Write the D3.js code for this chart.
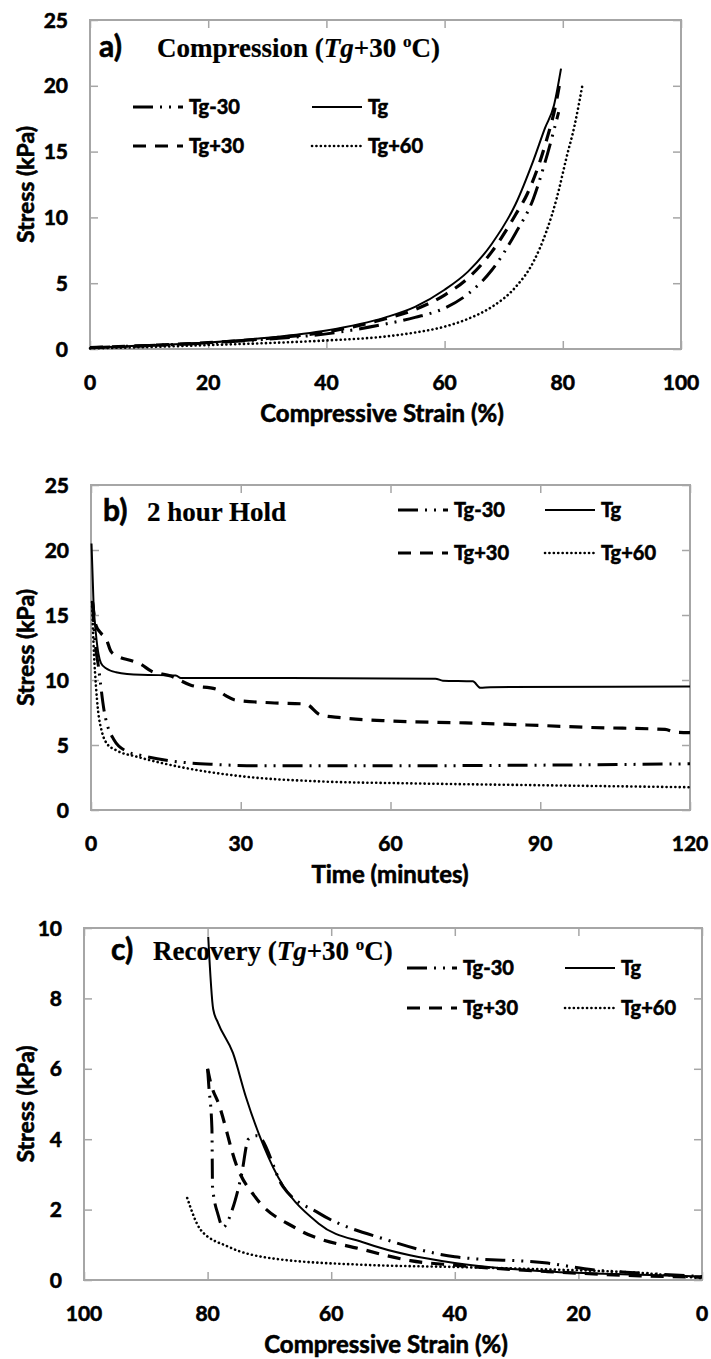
<!DOCTYPE html>
<html>
<head>
<meta charset="utf-8">
<script src="https://cdn.jsdelivr.net/npm/d3@7"></script>
<style>
  body { margin: 0; background: #fff; }
  text { font-family: Lato, "Open Sans", sans-serif; font-weight: bold; fill: #000; stroke: #000; stroke-width: 0.6px; }
  .serif { font-family: "Liberation Serif", "Times New Roman", serif; font-weight: bold; stroke-width: 0.2px; }
</style>
</head>
<body>
<svg id="chart" width="711" height="1359"></svg>
<script>
// series names + dash styles
var seriesNames = ["Tg-30", "Tg", "Tg+30", "Tg+60"];

// a) compression: [strain %, stress kPa]
var compTg30 = [[0,0.1],[10,0.27],[20,0.45],[30,0.75],[40,1.15],[50,1.9],[55,2.4],[60,3.1],[64,4.2],[68,6.0],[72,8.8],[75,11.4],[77,14.2],[79.3,18]];
var compTg   = [[0,0.1],[10,0.28],[20,0.5],[30,0.85],[40,1.4],[50,2.4],[55,3.2],[60,4.5],[64,5.9],[68,8.0],[72,11.0],[75,14.3],[77,16.8],[78.5,18.5],[79.7,21.3]];
var compTg30p = [[0,0.1],[10,0.27],[20,0.48],[30,0.8],[40,1.3],[50,2.3],[55,3.0],[60,4.1],[64,5.4],[68,7.4],[72,10.2],[74,11.8],[77,15.5],[79,19],[79.6,20.5]];
var compTg60p = [[0,0.05],[10,0.15],[20,0.3],[30,0.45],[40,0.65],[50,0.95],[55,1.25],[60,1.7],[64,2.3],[68,3.2],[72,4.7],[75,6.6],[77.2,8.9],[79,11.5],[80.6,14.5],[82,17],[83.3,20]];

// b) 2 hour hold: [time min, stress kPa]
var holdTg30 = [[0.3,16],[0.8,13],[1.5,11],[2.6,7.7],[4.6,5.4],[7.2,4.5],[10,4.2],[16.5,3.75],[25,3.5],[34,3.4],[60,3.4],[90,3.45],[120,3.55]];
var holdTg   = [[0.1,20.5],[0.5,16],[1,13.5],[1.5,12],[2,11.3],[3,10.9],[5,10.6],[10,10.4],[17,10.35],[18,10.15],[40,10.15],[69,10.1],[70.5,9.95],[76.5,9.9],[78,9.4],[80,9.45],[120,9.5]];
var holdTg30p = [[0.3,16],[1,14.2],[2,13.6],[3,13.2],[4,12.2],[5.5,11.8],[8,11.5],[10,11.2],[12,10.7],[16,10.3],[20,9.6],[25,9.3],[27,8.8],[29,8.45],[36,8.25],[43,8.15],[46,7.3],[50,7.1],[60,6.85],[75,6.7],[90,6.5],[100,6.35],[115,6.2],[117,6.0],[120,5.95]];
var holdTg60p = [[0.2,16],[0.6,12],[1,9.5],[1.4,7.7],[2.2,6],[3.2,5.1],[5,4.6],[9.2,4.1],[18,3.3],[30,2.6],[46,2.2],[64,2.05],[91,1.9],[120,1.75]];

// c) recovery: [strain %, stress kPa]
var recTg30 = [[80,6],[79.8,5.5],[79.3,4.3],[79.2,2.65],[78.3,1.85],[77.5,1.5],[76,2.0],[74.5,3.0],[73.4,4.0],[72,4.1],[67.8,2.65],[62,1.9],[51,1.14],[40,0.66],[25,0.48],[17.7,0.29],[10,0.2],[0,0.1]];
var recTg   = [[79.9,9.75],[79.1,7.7],[78.3,7.3],[75.9,6.45],[73.8,5.2],[69.4,3.2],[62,1.6],[54.5,1.05],[40,0.48],[25,0.24],[10,0.15],[0,0.1]];
var recTg30p = [[80,6],[79.5,5.6],[78.2,5.0],[75.2,3.2],[72.3,2.36],[65.7,1.47],[54.5,0.85],[47.2,0.55],[40,0.42],[25,0.24],[10,0.12],[0,0.08]];
var recTg60p = [[83.3,2.33],[81.1,1.42],[76.7,0.95],[69.4,0.61],[54.5,0.43],[40,0.37],[25,0.3],[10,0.2],[0,0.05]];

var ticksA = [0,20,40,60,80,100], yTicksA = [0,5,10,15,20,25];
var ticksB = [0,30,60,90,120],    yTicksB = [0,5,10,15,20,25];
var ticksC = [100,80,60,40,20,0], yTicksC = [0,2,4,6,8,10];

// line styles per series
var styles = {
  "Tg-30":  { width: 3,   dash: "20,7,2,7,2,7", cap: "butt" },
  "Tg":     { width: 2,   dash: null,            cap: "butt" },
  "Tg+30":  { width: 3.2, dash: "13,9",          cap: "butt" },
  "Tg+60":  { width: 2.6, dash: "0.1,4.3",       cap: "round" }
};

var svg = d3.select("#chart");
svg.append("rect").attr("width", 711).attr("height", 1359).attr("fill", "#fff");

var axisColor = "#a6a6a6";

function drawPanel(p) {
  var g = svg.append("g");
  var x = d3.scaleLinear().domain(p.xDomain).range([p.left, p.right]);
  var y = d3.scaleLinear().domain(p.yDomain).range([p.bottom, p.top]);

  // frame with inward ticks on all sides
  g.append("g").attr("transform", "translate(0," + p.bottom + ")")
    .call(d3.axisTop(x).tickValues(p.xTicks).tickSize(8).tickFormat(""))
    .call(function(s){ s.select(".domain").remove(); });
  g.append("g").attr("transform", "translate(0," + p.top + ")")
    .call(d3.axisBottom(x).tickValues(p.xTicks).tickSize(8).tickFormat(""))
    .call(function(s){ s.select(".domain").remove(); });
  g.append("g").attr("transform", "translate(" + p.left + ",0)")
    .call(d3.axisRight(y).tickValues(p.yTicks).tickSize(8).tickFormat(""))
    .call(function(s){ s.select(".domain").remove(); });
  g.append("g").attr("transform", "translate(" + p.right + ",0)")
    .call(d3.axisLeft(y).tickValues(p.yTicks).tickSize(8).tickFormat(""))
    .call(function(s){ s.select(".domain").remove(); });
  g.selectAll(".tick line").attr("stroke", axisColor).attr("stroke-width", 1.5);
  g.append("rect")
    .attr("x", p.left).attr("y", p.top)
    .attr("width", p.right - p.left).attr("height", p.bottom - p.top)
    .attr("fill", "none").attr("stroke", axisColor).attr("stroke-width", 2);

  // tick labels
  g.selectAll(".xl").data(p.xTicks).enter().append("text")
    .attr("x", function(d){ return x(d); })
    .attr("y", p.bottom + 41)
    .attr("text-anchor", "middle")
    .style("font-size", "21px")
    .text(function(d){ return d; });
  g.selectAll(".yl").data(p.yTicks).enter().append("text")
    .attr("x", p.left - 22)
    .attr("y", function(d){ return y(d) + 7.5; })
    .attr("text-anchor", "end")
    .style("font-size", "21px")
    .text(function(d){ return d; });

  // axis titles
  g.append("text")
    .attr("x", p.xTitleX).attr("y", p.bottom + 73)
    .attr("text-anchor", "middle")
    .style("font-size", "24px")
    .text(p.xTitle);
  g.append("text")
    .attr("transform", "translate(34," + ((p.top + p.bottom) / 2) + ") rotate(-90)")
    .attr("text-anchor", "middle")
    .style("font-size", "23px")
    .text("Stress (kPa)");

  // curves
  var line = d3.line()
    .x(function(d){ return x(d[0]); })
    .y(function(d){ return y(d[1]); })
    .curve(d3.curveMonotoneX);
  p.series.forEach(function(s, i){
    var st = styles[seriesNames[i]];
    g.append("path")
      .attr("d", line(s))
      .attr("fill", "none")
      .attr("stroke", "#000")
      .attr("stroke-width", st.width)
      .attr("stroke-linecap", st.cap)
      .attr("stroke-dasharray", st.dash);
  });

  // panel label + title
  g.append("text").attr("x", p.labelX).attr("y", p.titleY)
    .style("font-size", "30px").text(p.label);
  var t = g.append("text").attr("class", "serif")
    .attr("x", p.titleX).attr("y", p.titleY)
    .style("font-size", "27px");
  p.titleParts.forEach(function(part){
    var ts = t.append("tspan").text(part.t);
    if (part.it) ts.style("font-style", "italic");
    if (part.sup) ts.attr("dy", -10).style("font-size", "17px");
    if (part.down) ts.attr("dy", 10);
  });

  // legend (2 x 2)
  seriesNames.forEach(function(name, i){
    var col = i % 2, row = Math.floor(i / 2);
    var lx = p.legX[col], ly = p.legY[row];
    var st = styles[name];
    g.append("line")
      .attr("x1", lx).attr("x2", lx + 50)
      .attr("y1", ly).attr("y2", ly)
      .attr("stroke", "#000")
      .attr("stroke-width", st.width)
      .attr("stroke-linecap", st.cap)
      .attr("stroke-dasharray", st.dash);
    g.append("text")
      .attr("x", lx + 56).attr("y", ly + 7)
      .style("font-size", "20px")
      .text(name);
  });
}

drawPanel({
  left: 90, right: 681, top: 20, bottom: 349,
  xDomain: [0, 100], yDomain: [0, 25],
  xTicks: ticksA, yTicks: yTicksA,
  xTitle: "Compressive Strain (%)", xTitleX: 382,
  series: [compTg30, compTg, compTg30p, compTg60p],
  label: "a)", labelX: 99, titleX: 157, titleY: 57,
  titleParts: [{t: "Compression ("}, {t: "Tg", it: true}, {t: "+30 "}, {t: "o", sup: true}, {t: "C)", down: true}],
  legX: [133, 312], legY: [107, 146]
});

drawPanel({
  left: 91, right: 690, top: 485, bottom: 810,
  xDomain: [0, 120], yDomain: [0, 25],
  xTicks: ticksB, yTicks: yTicksB,
  xTitle: "Time (minutes)", xTitleX: 390,
  series: [holdTg30, holdTg, holdTg30p, holdTg60p],
  label: "b)", labelX: 103, titleX: 147, titleY: 521,
  titleParts: [{t: "2 hour Hold"}],
  legX: [398, 545], legY: [510, 553]
});

drawPanel({
  left: 84, right: 702, top: 928, bottom: 1280,
  xDomain: [100, 0], yDomain: [0, 10],
  xTicks: ticksC, yTicks: yTicksC,
  xTitle: "Compressive Strain (%)", xTitleX: 386,
  series: [recTg30, recTg, recTg30p, recTg60p],
  label: "c)", labelX: 111, titleX: 153, titleY: 960,
  titleParts: [{t: "Recovery ("}, {t: "Tg", it: true}, {t: "+30 "}, {t: "o", sup: true}, {t: "C)", down: true}],
  legX: [407, 565], legY: [968, 1008]
});
</script>
</body>
</html>
